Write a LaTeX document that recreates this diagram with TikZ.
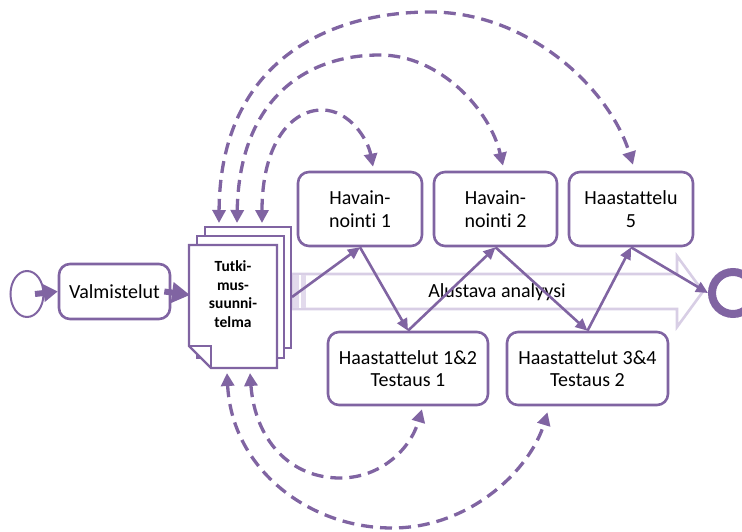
\documentclass[tikz,border=0pt]{standalone}
\usepackage{fontspec}
\setmainfont{Carlito}[Ligatures=NoCommon]
\usetikzlibrary{arrows.meta,shapes.geometric}
\definecolor{flow}{RGB}{128,100,162}
\definecolor{lav}{RGB}{216,206,229}
\begin{document}
\begin{tikzpicture}[x=1pt,y=-1pt,
  stepbox/.style={draw=flow,line width=2.6pt,rounded corners=11pt,fill=white,
    align=center,inner sep=0pt,font=\fontsize{20}{22.5}\selectfont},
  link/.style={draw=flow,line width=2.6pt,-{Triangle[length=12pt,width=11pt]}},
  feedback/.style={draw=flow,line width=3.3pt,dash pattern=on 12pt off 7pt,
    {Triangle[length=13pt,width=13pt]}-{Triangle[length=13pt,width=13pt]}},
  boldarrow/.style={draw=flow,line width=6pt},
  page/.style={draw=flow,line width=2.4pt,fill=white,line join=miter}]
\useasboundingbox (0,0) rectangle (742,532);

% background arrow: preliminary analysis running along the whole process
\draw[lav,line width=2.6pt,fill=white,line join=miter]
  (293,274) -- (677,274) -- (677,256) -- (703,291.5) -- (677,327)
  -- (677,309) -- (293,309) -- cycle;
\fill[lav!75] (293,275.3) rectangle (306,307.7);
\draw[white,line width=1.2pt] (300,275.3) -- (300,307.7);
\node[font=\fontsize{20}{22.5}\selectfont,inner sep=0pt] (ana) at (497,292) {Alustava analyysi};

% stacked documents: research plan
\draw[page] (205,227) rectangle (291,348);
\draw[page] (197,236) rectangle (284,358);
\draw[page] (189,245) -- (277,245) -- (277,368) -- (211,368) -- (189,346) -- cycle;
\draw[page,fill=none] (189,346) -- (211,346) -- (211,368);
\node[font=\bfseries\fontsize{15.5}{18.5}\selectfont,align=center,inner sep=0pt]
  (doc) at (233,294) {Tutki-\\mus-\\suunni-\\telma};
\coordinate (docL) at (190,295);
\coordinate (docR) at (292,297);
\coordinate (docTa) at (219,223);
\coordinate (docTb) at (237,223);
\coordinate (docTc) at (262,223);
\coordinate (docBa) at (227,373);
\coordinate (docBb) at (250,373);

% start and end events
\node[draw=flow,line width=2pt,ellipse,minimum width=33pt,minimum height=46pt,inner sep=0pt]
  (start) at (27,294) {};
\node[draw=flow,line width=8pt,circle,minimum size=42pt,inner sep=0pt]
  (end) at (733,293) {};

% process steps
\node[stepbox,minimum width=111pt,minimum height=55pt] (valm) at (114.5,291.5) {Valmistelut};
\node[stepbox,minimum width=124pt,minimum height=74pt] (h1) at (360,209) {Havain-\\nointi 1};
\node[stepbox,minimum width=123pt,minimum height=74pt] (h2) at (495.5,209) {Havain-\\nointi 2};
\node[stepbox,minimum width=124pt,minimum height=74pt] (h5) at (631,209) {Haastattelu\\5};
\node[stepbox,minimum width=160pt,minimum height=73pt] (h12) at (408,368.5) {Haastattelut 1\&2\\Testaus 1};
\node[stepbox,minimum width=161pt,minimum height=73pt] (h34) at (587.5,368.5) {Haastattelut 3\&4\\Testaus 2};

% main sequence
\draw[link] (docR) -- (h1.south);
\draw[link] (h1.south) -- (h12.north);
\draw[link] (h12.north) -- (h2.south);
\draw[link] (h2.south) -- (h34.north);
\draw[link] (h34.north) -- (h5.south);
\draw[link] (h5.south) -- (end.west);

\draw[boldarrow,-{Triangle[length=14pt,width=17pt]}] ([xshift=8pt]start.center) -- (valm.west);
\draw[boldarrow,-{Triangle[length=18pt,width=20pt]}] ([xshift=-7pt]valm.east) -- (docL);

% feedback loops back to the research plan
\coordinate (h1in) at ([xshift=13pt,yshift=4pt]h1.north);
\coordinate (h2in) at ([xshift=7.5pt,yshift=5pt]h2.north);
\coordinate (h5in) at ([xshift=2pt,yshift=6pt]h5.north);
\coordinate (h12in) at ([xshift=14pt,yshift=-3pt]h12.south);
\coordinate (h34in) at ([xshift=-40pt,yshift=-6pt]h34.south);

\draw[feedback] (docTc) .. controls (262,145) and (290,110) .. (322,110)
  .. controls (350,110) and (368,140) .. (h1in);
\draw[feedback] (docTb) .. controls (239,105) and (300,55) .. (380,55)
  .. controls (440,55) and (490,110) .. (h2in);
\draw[feedback] (docTa) .. controls (220,60) and (330,12) .. (430,12)
  .. controls (530,12) and (610,90) .. (h5in);
\draw[feedback] (docBb) .. controls (255,440) and (290,478) .. (340,478)
  .. controls (380,478) and (410,450) .. (h12in);
\draw[feedback] (docBa) .. controls (232,470) and (310,528) .. (392,528)
  .. controls (470,528) and (530,470) .. (h34in);
\end{tikzpicture}
\end{document}
